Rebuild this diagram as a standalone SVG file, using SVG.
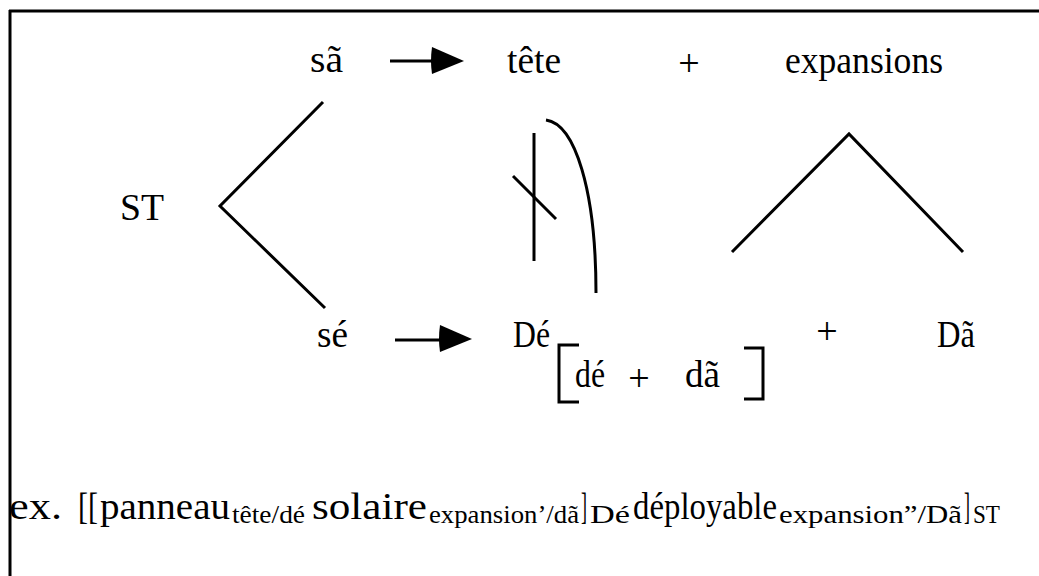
<svg xmlns="http://www.w3.org/2000/svg" width="1039" height="576" viewBox="0 0 1039 576">
<style>
text{font-family:"Liberation Serif","Times New Roman",serif;fill:#000}
.t{font-size:38px}
.m{font-size:38px}
.s{font-size:25px}
.ln{stroke:#000;stroke-width:3;fill:none;stroke-linecap:butt}
</style>
<defs>
<path id="ah" d="M0,-14 L32,0 L0,13 Q-2,0 0,-14Z" fill="#000"/>
</defs>
<rect width="1039" height="576" fill="#fff"/>
<g id="frame" class="ln">
<line x1="9" y1="11" x2="1039" y2="11"/>
<line x1="10" y1="10" x2="10" y2="576"/>
</g>
<g id="n-sa"><text class="t" x="310" y="72" textLength="33" lengthAdjust="spacingAndGlyphs">sã</text></g>
<g id="n-tete"><text class="t" x="507" y="73" textLength="54" lengthAdjust="spacingAndGlyphs">tête</text></g>
<g id="n-plus1"><text class="t" x="689" y="76" text-anchor="middle">+</text></g>
<g id="n-expansions"><text class="t" x="785" y="73" textLength="158" lengthAdjust="spacingAndGlyphs">expansions</text></g>
<g id="n-ST"><text class="t" x="120" y="220" textLength="44" lengthAdjust="spacingAndGlyphs">ST</text></g>
<g id="n-se"><text class="t" x="317" y="347" textLength="31" lengthAdjust="spacingAndGlyphs">sé</text></g>
<g id="n-De"><text class="t" x="513" y="347" textLength="37" lengthAdjust="spacingAndGlyphs">Dé</text></g>
<g id="n-plus2"><text class="t" x="827" y="344" text-anchor="middle">+</text></g>
<g id="n-Da"><text class="t" x="937" y="347" textLength="38" lengthAdjust="spacingAndGlyphs">Dã</text></g>
<g id="n-bracket">
<path class="ln" d="M579,345 H559 V402 H579"/>
<path class="ln" d="M744,348 H763 V399 H744"/>
<text class="t" x="575" y="387" textLength="30" lengthAdjust="spacingAndGlyphs">dé</text>
<text class="t" x="639" y="391" text-anchor="middle">+</text>
<text class="t" x="685" y="387" textLength="35" lengthAdjust="spacingAndGlyphs">dã</text>
</g>
<g id="connectors">
<line class="ln" x1="390" y1="61" x2="434" y2="61"/>
<use href="#ah" x="432" y="61"/>
<line class="ln" x1="395" y1="340" x2="442" y2="340"/>
<use href="#ah" x="440" y="339"/>
<polyline class="ln" points="323,102 220,206 325,308"/>
<line class="ln" x1="534" y1="133" x2="534" y2="261"/>
<line class="ln" x1="513" y1="176" x2="556" y2="219"/>
<path class="ln" d="M546,120 C575,124 596,190 596,293"/>
<polyline class="ln" points="732,252 849,134 963,252"/>
</g>
<g id="example">
<text class="m" x="9" y="519" textLength="53" lengthAdjust="spacingAndGlyphs">ex.</text>
<text class="m" x="78" y="519" textLength="20" lengthAdjust="spacingAndGlyphs">[[</text>
<text class="m" x="100" y="519" textLength="130" lengthAdjust="spacingAndGlyphs">panneau</text>
<text class="s" x="232" y="523" textLength="73" lengthAdjust="spacingAndGlyphs">tête/dé</text>
<text class="m" x="312" y="519" textLength="115" lengthAdjust="spacingAndGlyphs">solaire</text>
<text class="s" x="429" y="523" textLength="150" lengthAdjust="spacingAndGlyphs">expansion’/dã</text>
<text class="m" x="581" y="519" textLength="6" lengthAdjust="spacingAndGlyphs">]</text>
<text class="s" x="590" y="523" textLength="40" lengthAdjust="spacingAndGlyphs">Dé</text>
<text class="m" x="633" y="519" textLength="144" lengthAdjust="spacingAndGlyphs">déployable</text>
<text class="s" x="779" y="523" textLength="183" lengthAdjust="spacingAndGlyphs">expansion”/Dã</text>
<text class="m" x="964" y="519" textLength="6" lengthAdjust="spacingAndGlyphs">]</text>
<text class="s" x="973" y="523" textLength="27" lengthAdjust="spacingAndGlyphs">ST</text>
</g>
</svg>
